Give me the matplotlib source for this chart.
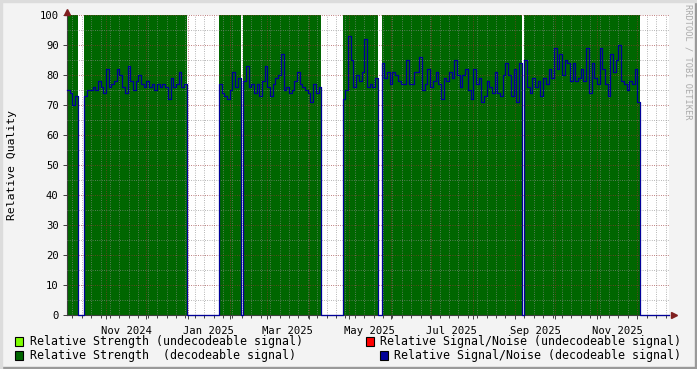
import numpy as np
import matplotlib.pyplot as plt
import matplotlib.dates as mdates
from matplotlib.patches import Rectangle
from matplotlib.transforms import blended_transform_factory

# ---- data (one sample every 2 days) ----
seg_starts = ['2024-10-03', '2024-10-16', '2025-01-24', '2025-04-26', '2025-05-25']
t_first = '2024-10-03'
t_last = '2025-12-24T14:00'

snr_oct = [75, 74, 70, 73]
snr_nov = [73, 75, 75, 76, 75, 78, 76, 74, 82, 76, 77, 78, 82, 80, 76, 74, 83, 78, 75,
           78, 80, 77, 76, 78, 76, 77, 75, 77, 76, 77, 76, 72, 79, 76, 77, 81, 76, 77]
snr_feb = [77, 74, 73, 72, 75, 81, 76, 79, 0, 78, 83, 76, 77, 74, 77, 73, 78, 83, 76,
           73, 77, 79, 80, 87, 75, 76, 74, 75, 78, 81, 77, 76, 75, 74, 71, 77, 74, 76]
snr_may = [72, 75, 93, 85, 76, 80, 78, 81, 92, 76, 77, 76, 79]
snr_jun = [84, 79, 81, 77, 81, 80, 78, 77, 77, 85,
           77, 77, 81, 81, 86, 75, 77, 82, 76, 78,
           81, 77, 72, 79, 78, 81, 79, 85, 80, 76,
           80, 82, 75, 72, 82, 77, 79, 71, 73, 78,
           76, 74, 81, 74, 73, 80, 84, 80, 73, 82,
           71, 84, 0, 85, 76, 74, 79, 76, 78, 73,
           79, 77, 82, 79, 89, 82, 87, 80, 85, 84,
           78, 84, 78, 79, 82, 78, 89, 74, 84, 79,
           77, 89, 82, 77, 73, 87, 81, 85, 90, 78,
           77, 75, 78, 77, 82, 71]
segments = [snr_oct, snr_nov, snr_feb, snr_may, snr_jun]

label_dates = ['2024-11-16', '2025-01-16', '2025-03-16', '2025-05-16',
               '2025-07-16', '2025-09-16', '2025-11-16']
label_text = ['Nov 2024', 'Jan 2025', 'Mar 2025', 'May 2025',
              'Jul 2025', 'Sep 2025', 'Nov 2025']

legend_items = [
    ('Relative Strength (undecodeable signal)', '#7FFF00'),
    ('Relative Strength  (decodeable signal)', '#006600'),
    ('Relative Signal/Noise (undecodeable signal)', '#FF0000'),
    ('Relative Signal/Noise (decodeable signal)', '#000099'),
]

# build step series, SNR drops to 0 where there is no data
DAY = np.timedelta64(1, 'D')
xs, snr, strength = [], [], []
for start, vals in zip(seg_starts, segments):
    t = np.datetime64(start) + np.arange(len(vals)) * 2 * DAY
    xs.extend(t)
    snr.extend(vals)
    strength.extend([100 if v > 0 else 0 for v in vals])
    xs.append(t[-1] + 2 * DAY)
    snr.append(0)
    strength.append(0)
xs.append(np.datetime64(t_last))
snr.append(0)
strength.append(0)
xs = np.array(xs, dtype='datetime64[h]')

W, H = 697, 369
mono = 'DejaVu Sans Mono'
fig = plt.figure(figsize=(W / 100, H / 100), dpi=100, facecolor='#F3F3F3')
ax = fig.add_axes([67 / W, 54 / H, 602 / W, 300 / H])
ax.set_facecolor('white')

ax.fill_between(xs, 0, strength, step='post', color='#006600', lw=0, zorder=1)
ax.plot(xs, snr, drawstyle='steps-post', color='#000099', lw=0.9, zorder=4,
        clip_on=False)

ax.set_xlim(np.datetime64(t_first), np.datetime64(t_last))
ax.set_ylim(0, 100)

# grid on top of the area, like rrdtool
ax.set_yticks(np.arange(0, 101, 10))
ax.set_yticks(np.arange(5, 100, 10), minor=True)
ax.xaxis.set_major_locator(mdates.MonthLocator())
ax.xaxis.set_minor_locator(mdates.WeekdayLocator(byweekday=mdates.MO))
ax.xaxis.set_major_formatter(plt.NullFormatter())
ax.set_axisbelow(False)
ax.grid(which='minor', color=(0.55, 0.55, 0.55, 0.3), ls=(0, (1, 2)), lw=0.55)
ax.grid(which='major', color=(0.6, 0.2, 0.2, 0.3), ls=(0, (1, 2)), lw=0.55)

for s in ['top', 'right']:
    ax.spines[s].set_visible(False)
for s in ['left', 'bottom']:
    ax.spines[s].set_color('#404040')
    ax.spines[s].set_linewidth(0.8)
ax.tick_params(which='both', colors='#404040', labelcolor='black', width=0.7)
ax.tick_params(which='major', length=3)
ax.tick_params(which='minor', length=2)
ax.tick_params(axis='y', which='minor', length=0)
ax.tick_params(axis='y', labelsize=7.6, pad=3)
for lab in ax.get_yticklabels():
    lab.set_family(mono)

trans = blended_transform_factory(ax.transData, ax.transAxes)
for d, txt in zip(label_dates, label_text):
    ax.text(np.datetime64(d), -0.035, txt, transform=trans, ha='center', va='top',
            family=mono, fontsize=7.6)

# arrows at the end of the axes
ax.plot([1.008], [0], marker='>', color='#7F1F1F', ms=4, transform=ax.transAxes,
        clip_on=False, zorder=5)
ax.plot([0], [1.01], marker='^', color='#7F1F1F', ms=4, transform=ax.transAxes,
        clip_on=False, zorder=5)

fig.text(12 / W, 1 - 165 / H, 'Relative Quality', rotation=90, ha='center',
         va='center', family=mono, fontsize=8.2)
fig.text(688 / W, 1 - 4 / H, 'RRDTOOL / TOBI OETIKER', rotation=270, ha='center',
         va='top', family=mono, fontsize=6.2, color='#AAAAAA')

# legend
fs = 8.35
char_w = 0.602 * fs * 100 / 72
rows = [341, 355]
for i, (txt, col) in enumerate(legend_items):
    y = 1 - rows[i % 2] / H
    if i < 2:
        x0 = 15
        fig.text(30 / W, y, txt, ha='left', va='center', family=mono, fontsize=fs)
    else:
        fig.text(681 / W, y, txt, ha='right', va='center', family=mono, fontsize=fs)
        x0 = 681 - char_w * len(txt) - 15
    fig.add_artist(Rectangle((x0 / W, y - 4.5 / H), 8 / W, 9 / H, facecolor=col,
                             edgecolor='black', lw=0.8, transform=fig.transFigure))

# image frame shading
fig.add_artist(Rectangle((0, 0), 1, 2 / H, color='#999999', transform=fig.transFigure))
fig.add_artist(Rectangle((1 - 2 / W, 0), 2 / W, 1, color='#999999',
                         transform=fig.transFigure))
fig.add_artist(Rectangle((0, 1 - 2 / H), 1, 2 / H, color='#DCDCDC',
                         transform=fig.transFigure))
fig.add_artist(Rectangle((0, 0), 2 / W, 1, color='#DCDCDC', transform=fig.transFigure))

fig.savefig('out.png', dpi=100, facecolor=fig.get_facecolor())
